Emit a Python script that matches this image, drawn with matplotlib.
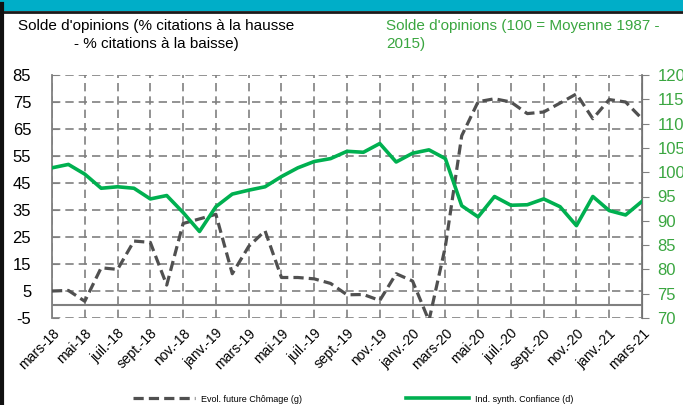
import numpy as np
import matplotlib
matplotlib.use('Agg')
import matplotlib.pyplot as plt
from matplotlib.patches import Rectangle
from matplotlib.lines import Line2D

plt.rcParams['font.family'] = ['Liberation Sans', 'DejaVu Sans']
plt.rcParams['axes.unicode_minus'] = False

# monthly, mars-18 .. mars-21
mois = ['mars-18', 'avr.-18', 'mai-18', 'juin-18', 'juil.-18', 'août-18', 'sept.-18', 'oct.-18',
        'nov.-18', 'déc.-18', 'janv.-19', 'févr.-19', 'mars-19', 'avr.-19', 'mai-19', 'juin-19',
        'juil.-19', 'août-19', 'sept.-19', 'oct.-19', 'nov.-19', 'déc.-19', 'janv.-20', 'févr.-20',
        'mars-20', 'avr.-20', 'mai-20', 'juin-20', 'juil.-20', 'août-20', 'sept.-20', 'oct.-20',
        'nov.-20', 'déc.-20', 'janv.-21', 'févr.-21', 'mars-21']

chomage = [5.0, 5.2, 1.2, 13.6, 13.0, 23.5, 23.0, 7.2, 30.0, 31.7, 33.4, 11.4, 21.5, 27.3,
           10.0, 10.0, 9.5, 7.8, 3.6, 3.7, 1.5, 11.4, 8.7, -6.0, 21.4, 62.5, 75.1, 76.2,
           75.0, 70.7, 71.3, 74.6, 78.0, 68.8, 75.9, 75.0, 68.8]

confiance = [100.9, 101.6, 99.6, 96.7, 97.0, 96.7, 94.5, 95.2, 91.7, 87.8, 92.9, 95.5, 96.3,
             97.0, 99.1, 100.9, 102.2, 102.8, 104.3, 104.1, 105.9, 102.1, 103.9, 104.6, 102.8,
             93.1, 90.8, 95.0, 93.2, 93.3, 94.5, 92.9, 89.0, 95.0, 92.1, 91.2, 94.0]

titre_g = "Solde d'opinions (% citations à la hausse\n- % citations à la baisse)"
titre_d = "Solde d'opinions (100 = Moyenne 1987 -\n2015)"

gris = '#808080'
vert = '#00b050'
vert_txt = '#3aa640'

fig = plt.figure(figsize=(6.83, 4.05), dpi=100)
ax = fig.add_axes([52/683, 1-318/405, 590/683, 243/405])
ax2 = ax.twinx()

x = np.arange(len(mois))
ax.plot(x, chomage, color='#505050', lw=2.3, dashes=(3.2, 1.6), zorder=3,
        label='Evol. future Chômage (g)')
ax2.plot(x, confiance, color=vert, lw=2.6, zorder=3, label='Ind. synth. Confiance (d)')

ax.set_xlim(0, len(mois)-1)
ax.set_ylim(-5, 85)
ax.set_yticks(np.arange(-5, 86, 10))
ax2.set_ylim(70, 120)
ax2.set_yticks(np.arange(70, 121, 5))

ax.set_xticks(x[::2])
ax.set_xticklabels(mois[::2], rotation=45, ha='right', rotation_mode='anchor', fontsize=10)
ax.grid(True, color=gris, lw=1.2, ls=(0, (5, 3)))
ax.axhline(0, color=gris, lw=1.5, zorder=2)

for s in ['top', 'bottom']:
    ax.spines[s].set_visible(False)
    ax2.spines[s].set_visible(False)
ax2.spines['left'].set_visible(False)
ax.spines['left'].set_color(gris)
ax.spines['left'].set_linewidth(1.3)
ax2.spines['right'].set_color(gris)
ax2.spines['right'].set_linewidth(1.3)

ax.tick_params(axis='x', length=0, pad=6)
ax.tick_params(axis='y', direction='in', length=5, color=gris, labelsize=12, pad=15)
ax2.tick_params(axis='y', direction='out', length=5, color=gris, labelsize=12,
                labelcolor=vert_txt, pad=6)
ax.set_zorder(ax2.get_zorder() - 1)
ax.patch.set_visible(True)
ax2.patch.set_visible(False)

fig.text(156/683, 1-35/405, titre_g, ha='center', va='center', fontsize=11, linespacing=1.3)
fig.text(386/683, 1-35/405, titre_d, ha='left', va='center', fontsize=11, color=vert_txt,
         linespacing=1.3)

h1, l1 = ax.get_legend_handles_labels()
h2, l2 = ax2.get_legend_handles_labels()
fig.legend(h1 + h2, l1 + l2, loc='center', bbox_to_anchor=(353/683, 1-399/405), ncol=2,
           frameon=False, handlelength=6.9, columnspacing=11.5, handletextpad=0.7,
           prop={'size': 6.5})

# bandeau et cadre
fig.add_artist(Rectangle((0, 1-11/405), 1, 11/405, transform=fig.transFigure,
                         facecolor='#00aec8', edgecolor='none'))
fig.add_artist(Line2D([0, 1], [1-11.5/405]*2, transform=fig.transFigure, color='#1a1a1a', lw=2))
fig.add_artist(Line2D([2/683]*2, [0, 1-4/405], transform=fig.transFigure, color='#111111', lw=3))

fig.savefig('out.png', dpi=100)
